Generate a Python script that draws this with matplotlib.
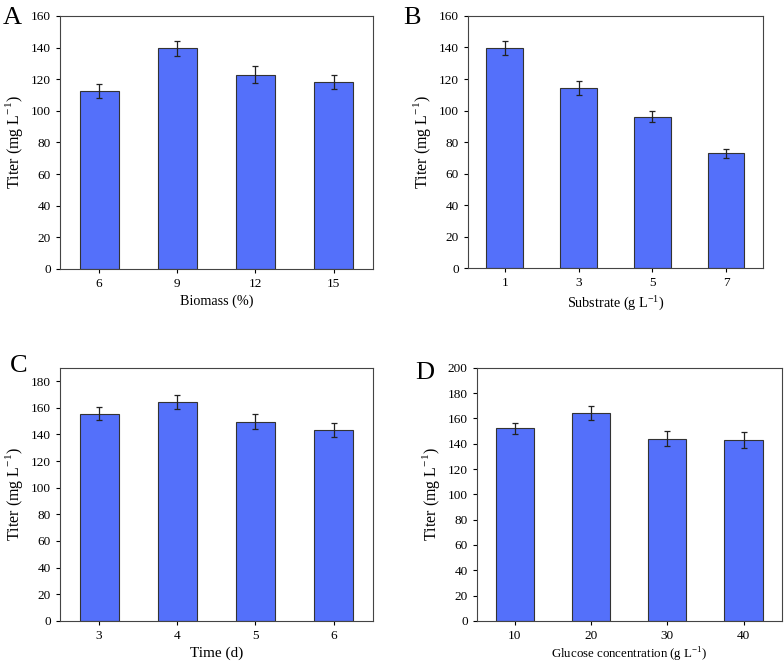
import numpy as np
import matplotlib
matplotlib.use('Agg')
import matplotlib.pyplot as plt

plt.rcParams['font.family'] = 'Liberation Serif'
plt.rcParams['mathtext.fontset'] = 'custom'
plt.rcParams['mathtext.rm'] = 'Liberation Serif'

# panel data
biomass = ['6', '9', '12', '15']
biomass_val = [112.3, 139.6, 122.9, 118.4]
biomass_err = [4.4, 4.7, 5.2, 4.4]

substrate = ['1', '3', '5', '7']
substrate_val = [139.7, 114.2, 96.0, 72.9]
substrate_err = [4.7, 4.5, 3.5, 3.0]

time_d = ['3', '4', '5', '6']
time_val = [155.6, 164.4, 149.6, 143.3]
time_err = [5.0, 5.4, 5.8, 5.6]

glucose = ['10', '20', '30', '40']
glucose_val = [152.2, 164.3, 143.8, 142.7]
glucose_err = [4.6, 5.5, 5.9, 6.3]

bar_color = '#5470fa'
ylab = 'Titer (mg L$^{\\mathregular{-1}}$)'

fig = plt.figure(figsize=(7.84, 6.64), dpi=100)

panels = [
    ('A', [0.0765, 0.595, 0.399, 0.381], biomass, biomass_val, biomass_err, 'Biomass (%)', 10.2, 160, (0.004, 0.99)),
    ('B', [0.597, 0.596, 0.376, 0.380], substrate, substrate_val, substrate_err, 'Substrate (g L$^{\\mathregular{-1}}$)', 10.2, 160, (0.514, 0.99)),
    ('C', [0.0765, 0.065, 0.399, 0.381], time_d, time_val, time_err, 'Time (d)', 11, 190, (0.012, 0.465)),
    ('D', [0.608, 0.065, 0.389, 0.381], glucose, glucose_val, glucose_err, 'Glucose concentration (g L$^{\\mathregular{-1}}$)', 9.3, 200, (0.53, 0.455)),
]

for letter, pos, cats, vals, errs, xlab, xfs, ymax, lpos in panels:
    ax = fig.add_axes(pos)
    x = np.arange(len(cats))
    ax.bar(x, vals, width=0.5, color=bar_color, edgecolor='#333333', linewidth=0.8,
           yerr=errs, error_kw=dict(ecolor='#222222', elinewidth=0.9, capsize=2.2, capthick=0.9))
    ax.set_xlim(-0.5, 3.5)
    ax.set_ylim(0, ymax)
    ax.set_yticks(np.arange(0, ymax + 1, 20) if ymax % 20 == 0 else np.arange(0, ymax, 20))
    ax.set_xticks(x)
    ax.set_xticklabels(cats)
    ax.tick_params(labelsize=9.5, length=3, width=0.8, direction='out', top=False, right=False)
    for s in ax.spines.values():
        s.set_linewidth(0.8)
        s.set_color('#444444')
    ax.set_xlabel(xlab, fontsize=xfs, labelpad=3)
    ax.set_ylabel(ylab, fontsize=11.5)
    fig.text(lpos[0], lpos[1], letter, fontsize=19, va='top', ha='left')

fig.savefig('out.png', dpi=100)
